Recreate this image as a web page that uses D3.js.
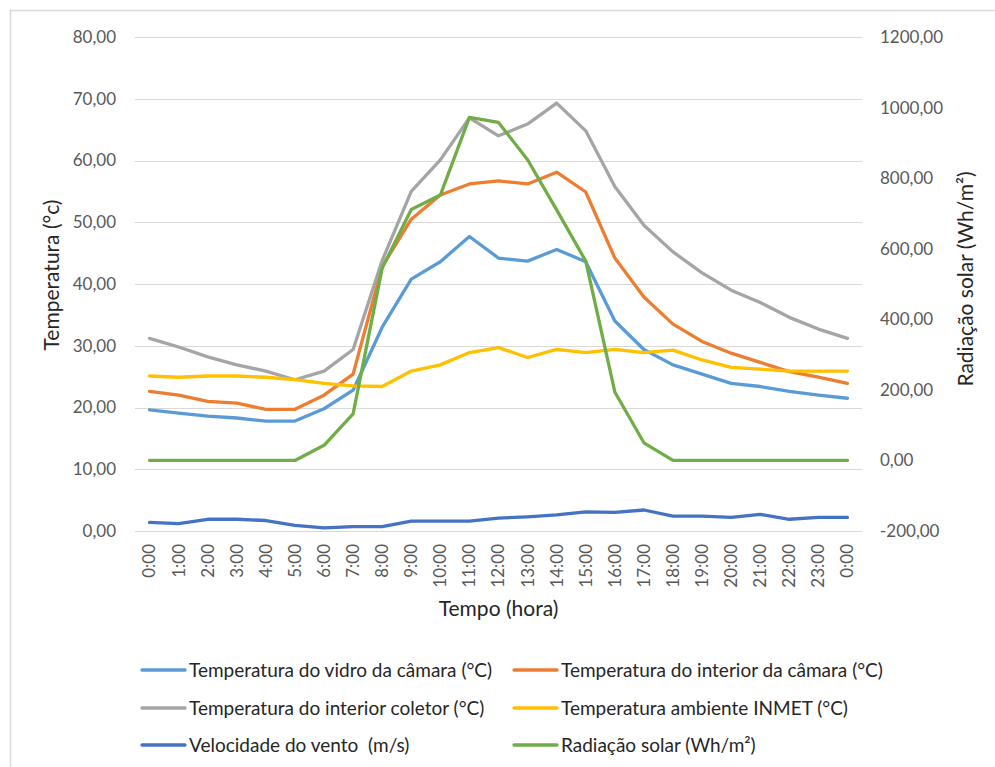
<!DOCTYPE html>
<html>
<head>
<meta charset="utf-8">
<script src="https://cdn.jsdelivr.net/npm/d3@7"></script>
<style>
  body { margin: 0; background: #fff; }
  svg { font-family: Lato, "Open Sans", sans-serif; }
</style>
</head>
<body>
<div id="chart"></div>
<script>
// ---- data ----
const hours = ["0:00","1:00","2:00","3:00","4:00","5:00","6:00","7:00","8:00","9:00","10:00","11:00",
  "12:00","13:00","14:00","15:00","16:00","17:00","18:00","19:00","20:00","21:00","22:00","23:00","0:00"];

const vidroCamara = [19.6,19.1,18.6,18.3,17.8,17.8,19.8,22.8,33.0,40.8,43.6,47.7,44.2,43.7,45.6,43.6,
  34.0,29.4,26.9,25.4,23.9,23.4,22.6,22.0,21.5];
const interiorCamara = [22.6,22.0,21.0,20.7,19.7,19.7,22.0,25.4,42.8,50.5,54.4,56.2,56.7,56.2,58.1,54.9,
  44.2,37.9,33.5,30.7,28.8,27.3,25.8,24.9,23.9];
const interiorColetor = [31.2,29.8,28.2,26.9,25.9,24.5,25.9,29.4,43.8,55.0,60.1,66.9,64.0,65.9,69.3,64.8,
  55.8,49.5,45.2,41.8,39.0,37.0,34.6,32.7,31.2];
const ambienteInmet = [25.1,24.9,25.1,25.1,24.9,24.5,23.9,23.5,23.4,25.9,26.9,28.9,29.7,28.1,29.4,28.9,
  29.4,28.9,29.3,27.7,26.5,26.2,25.9,25.9,25.9];
const velocidadeVento = [1.4,1.2,1.9,1.9,1.7,0.9,0.5,0.7,0.7,1.6,1.6,1.6,2.1,2.3,2.6,3.1,
  3.0,3.4,2.4,2.4,2.2,2.7,1.9,2.2,2.2];
const radiacaoSolar = [0,0,0,0,0,0,43,132,545,711,752,972,958,852,710,565,
  194,50,0,0,0,0,0,0,0];

const leftTicks = [0,10,20,30,40,50,60,70,80];
const rightTicks = [-200,0,200,400,600,800,1000,1200];

const series = [
  { name: "Temperatura do vidro da câmara (°C)", values: vidroCamara, color: "#5B9BD5", axis: "left" },
  { name: "Temperatura do interior da câmara (°C)", values: interiorCamara, color: "#ED7D31", axis: "left" },
  { name: "Temperatura do interior coletor (°C)", values: interiorColetor, color: "#A5A5A5", axis: "left" },
  { name: "Temperatura ambiente INMET (°C)", values: ambienteInmet, color: "#FFC000", axis: "left" },
  { name: "Velocidade do vento  (m/s)", values: velocidadeVento, color: "#4472C4", axis: "left" },
  { name: "Radiação solar (Wh/m²)", values: radiacaoSolar, color: "#70AD47", axis: "right" }
];

// ---- layout ----
const width = 995, height = 767;
const plot = { left: 135, right: 862, top: 37, bottom: 531 };
const fmt = v => v.toFixed(2).replace(".", ",");

const svg = d3.select("#chart").append("svg")
  .attr("width", width)
  .attr("height", height);

// frame (only left and top edges are visible in the crop)
svg.append("path")
  .attr("d", `M10.5,${height} V10.5 H${width}`)
  .attr("fill", "none")
  .attr("stroke", "#d9d9d9")
  .attr("stroke-width", 1.5);

const x = d3.scalePoint()
  .domain(d3.range(hours.length))
  .range([plot.left, plot.right])
  .padding(0.5);

const yLeft = d3.scaleLinear().domain([0, 80]).range([plot.bottom, plot.top]);
const yRight = d3.scaleLinear().domain([-200, 1200]).range([plot.bottom, plot.top]);

// gridlines
svg.append("g")
  .selectAll("line")
  .data(leftTicks)
  .join("line")
    .attr("x1", plot.left)
    .attr("x2", plot.right)
    .attr("y1", d => Math.round(yLeft(d)) + 0.5)
    .attr("y2", d => Math.round(yLeft(d)) + 0.5)
    .attr("stroke", "#d9d9d9")
    .attr("stroke-width", 1);

// left axis labels
const leftAxis = svg.append("g")
  .attr("transform", `translate(${plot.left - 19},0)`)
  .call(d3.axisLeft(yLeft).tickValues(leftTicks).tickFormat(fmt).tickSize(0).tickPadding(0));
leftAxis.select(".domain").remove();
leftAxis.selectAll("text")
  .attr("fill", "#595959")
  .style("font-size", "17px")
  .style("font-family", "Lato, sans-serif");

// right axis labels
const rightAxis = svg.append("g")
  .attr("transform", `translate(${plot.right + 18},0)`)
  .call(d3.axisRight(yRight).tickValues(rightTicks).tickFormat(fmt).tickSize(0).tickPadding(0));
rightAxis.select(".domain").remove();
rightAxis.selectAll("text")
  .attr("fill", "#595959")
  .style("font-size", "17px")
  .style("font-family", "Lato, sans-serif");

// x axis labels (rotated)
svg.append("g")
  .selectAll("text")
  .data(hours)
  .join("text")
    .attr("transform", (d, i) => `translate(${x(i)},${plot.bottom + 13}) rotate(-90)`)
    .attr("text-anchor", "end")
    .attr("dy", "0.35em")
    .attr("fill", "#595959")
    .style("font-size", "17px")
    .text(d => d);

// axis titles
svg.append("text")
  .attr("transform", `translate(59,275) rotate(-90)`)
  .attr("text-anchor", "middle")
  .attr("fill", "#262626")
  .style("font-size", "21px")
  .text("Temperatura (°c)");

svg.append("text")
  .attr("transform", `translate(958,279) rotate(-90)`)
  .attr("text-anchor", "middle")
  .attr("dy", "0.7em")
  .attr("fill", "#262626")
  .style("font-size", "21px")
  .text("Radiação solar (Wh/m²)");

svg.append("text")
  .attr("x", (plot.left + plot.right) / 2)
  .attr("y", 616)
  .attr("text-anchor", "middle")
  .attr("fill", "#262626")
  .style("font-size", "21px")
  .text("Tempo (hora)");

// lines
const lineLeft = d3.line().x((d, i) => x(i)).y(d => yLeft(d));
const lineRight = d3.line().x((d, i) => x(i)).y(d => yRight(d));

svg.append("g")
  .selectAll("path")
  .data(series)
  .join("path")
    .attr("d", s => (s.axis === "left" ? lineLeft : lineRight)(s.values))
    .attr("fill", "none")
    .attr("stroke", s => s.color)
    .attr("stroke-width", 3.3)
    .attr("stroke-linejoin", "round")
    .attr("stroke-linecap", "round");

// legend: two columns, three rows
const legendCols = [142, 514];
const legendRows = [670, 708, 745];

const legend = svg.append("g")
  .selectAll("g")
  .data(series)
  .join("g")
    .attr("transform", (d, i) => `translate(${legendCols[i % 2]},${legendRows[Math.floor(i / 2)]})`);

legend.append("line")
  .attr("x1", 0)
  .attr("x2", 43)
  .attr("stroke", d => d.color)
  .attr("stroke-width", 3.3)
  .attr("stroke-linecap", "round");

legend.append("text")
  .attr("x", 47)
  .attr("dy", "0.35em")
  .attr("fill", "#262626")
  .style("font-size", "19px")
  .style("white-space", "pre")
  .text(d => d.name);
</script>
</body>
</html>
